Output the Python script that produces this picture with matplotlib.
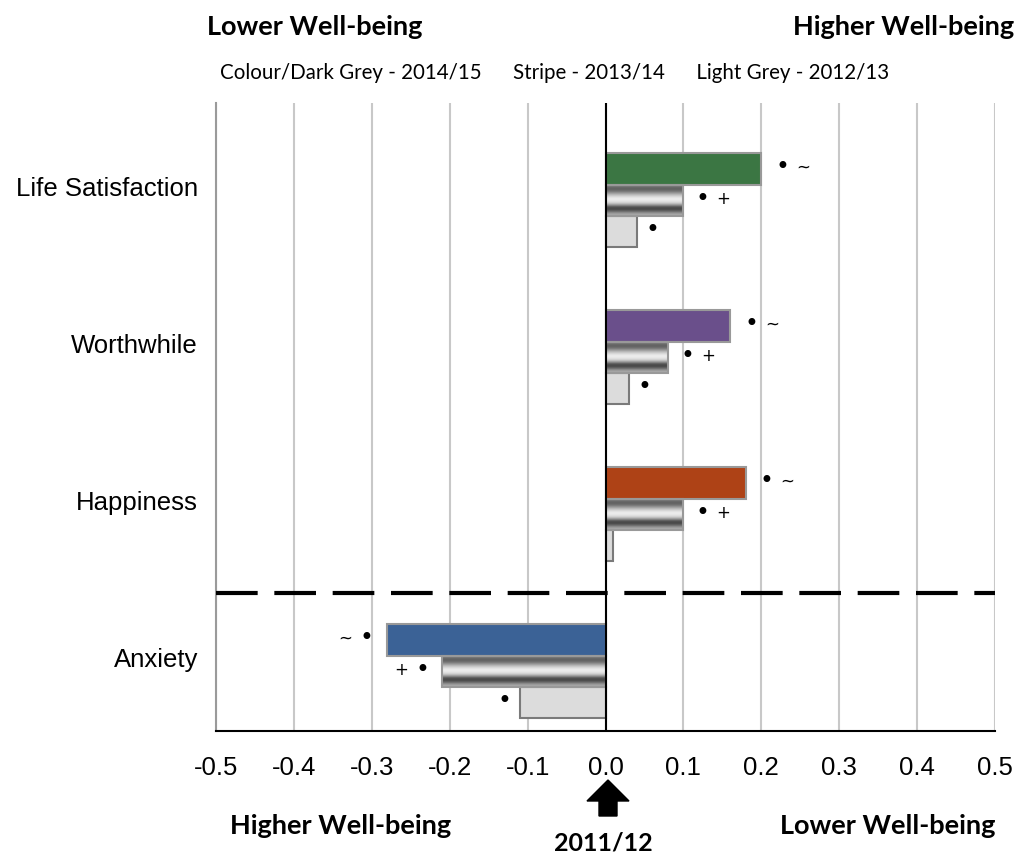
import numpy as np
import matplotlib.pyplot as plt
from matplotlib.patches import Polygon

categories = ["Life Satisfaction", "Worthwhile", "Happiness", "Anxiety"]
val_2015 = [0.20, 0.16, 0.18, -0.28]
val_2014 = [0.10, 0.08, 0.10, -0.21]
val_2013 = [0.04, 0.03, 0.01, -0.11]
colours_2015 = ["#3b7643", "#6a4f8b", "#ae4216", "#3b6296"]
marks_2015 = [["•", "~"], ["•", "~"], ["•", "~"], ["•", "~"]]
marks_2014 = [["•", "+"], ["•", "+"], ["•", "+"], ["•", "+"]]
marks_2013 = [["•"], ["•"], [], ["•"]]
xticks = [-0.5, -0.4, -0.3, -0.2, -0.1, 0.0, 0.1, 0.2, 0.3, 0.4, 0.5]

W, H = 1014, 857
fig = plt.figure(figsize=(W / 100, H / 100), dpi=100)
ax = fig.add_axes([216 / W, 1 - 731 / H, (995 - 216) / W, (731 - 103) / H])

bh = 0.2
pos = np.arange(4) + 0.62

# striped gradient for 2013/14
stripe = np.array([0.58, 0.42, 0.38, 0.45, 0.6, 0.75, 0.87, 0.93, 0.9, 0.8,
                   0.58, 0.33, 0.28, 0.4, 0.58, 0.68])[:, None]

for i in range(4):
    ax.barh(pos[i] - bh, val_2015[i], height=bh, color=colours_2015[i],
            edgecolor="#999999", linewidth=1.5, zorder=3)
    x0, x1 = sorted([0, val_2014[i]])
    ax.imshow(stripe, cmap="gray", vmin=0, vmax=1, aspect="auto",
              extent=[x0, x1, pos[i] + bh / 2, pos[i] - bh / 2], zorder=3,
              interpolation="bilinear")
    ax.barh(pos[i], val_2014[i], height=bh, fill=False,
            edgecolor="#999999", linewidth=1.5, zorder=4)
    ax.barh(pos[i] + bh, val_2013[i], height=bh, color="#dcdcdc",
            edgecolor="#7a7a7a", linewidth=1.5, zorder=3)

    for y, v, m, off in [(pos[i] - bh, val_2015[i], marks_2015[i], 15),
                         (pos[i], val_2014[i], marks_2014[i], 14),
                         (pos[i] + bh, val_2013[i], marks_2013[i], 11)]:
        sgn = 1 if v >= 0 else -1
        for k, s in enumerate(m):
            ax.annotate(s, (v, y - 0.01), xytext=(sgn * (off + 15 * k), 0),
                        textcoords="offset points", ha="center", va="center",
                        fontsize=12 if s != "•" else 17, color="black",
                        fontfamily="DejaVu Sans", zorder=5)

ax.set_xlim(-0.5, 0.5)
ax.set_ylim(4, 0)

ax.axvline(0, color="black", lw=1.5, zorder=6)
ax.axhline(3.12, color="black", lw=3, dashes=(10, 4), zorder=6)
ax.set_xticks(xticks)
ax.set_xticklabels([f"{t:.1f}" for t in xticks])
ax.grid(axis="x", color="#c8c8c8", lw=1.5, zorder=0)
ax.set_axisbelow(True)
ax.set_yticks(np.arange(4) + 0.53)
ax.set_yticklabels(categories)
ax.tick_params(axis="both", length=0, labelsize=18.5)
ax.tick_params(axis="x", pad=18)
ax.tick_params(axis="y", pad=13)
for lab in ax.get_xticklabels() + ax.get_yticklabels():
    lab.set_fontfamily("Liberation Sans")
for s in ["top", "right"]:
    ax.spines[s].set_visible(False)
ax.spines["left"].set_color("#9a9a9a")
ax.spines["left"].set_linewidth(1.5)
ax.spines["bottom"].set_color("black")
ax.spines["bottom"].set_linewidth(1.5)

bold = dict(fontfamily="Lato", fontweight="bold", fontsize=19.5)
fig.text(207 / W, 1 - 27 / H, "Lower Well-being", ha="left", va="center", **bold)
fig.text(793 / W, 1 - 27 / H, "Higher Well-being", ha="left", va="center", **bold)
fig.text(220 / W, 1 - 73 / H,
         "Colour/Dark Grey - 2014/15      Stripe - 2013/14      Light Grey - 2012/13",
         ha="left", va="center", fontfamily="Lato", fontsize=14.8)
fig.text(230 / W, 1 - 826 / H, "Higher Well-being", ha="left", va="center", **bold)
fig.text(780 / W, 1 - 826 / H, "Lower Well-being", ha="left", va="center", **bold)
fig.text(603 / W, 1 - 843 / H, "2011/12", ha="center", va="center",
         fontfamily="Lato", fontweight="bold", fontsize=18)

arrow = np.array([[608, 780], [629, 801], [617, 801], [617, 816],
                  [599, 816], [599, 801], [587, 801]], dtype=float)
arrow[:, 0] /= W
arrow[:, 1] = 1 - arrow[:, 1] / H
fig.patches.append(Polygon(arrow, closed=True, color="black",
                           transform=fig.transFigure, figure=fig))

fig.savefig("out.png", dpi=100)
